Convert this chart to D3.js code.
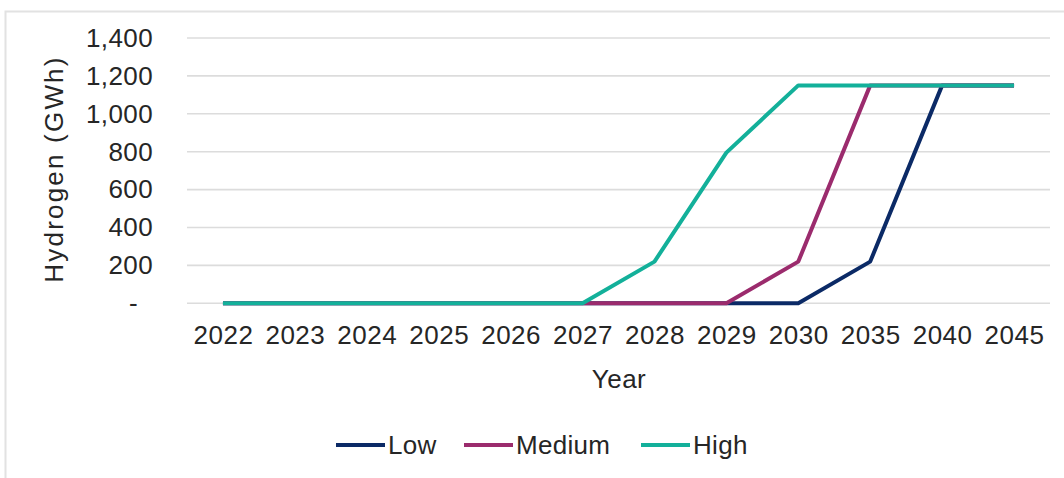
<!DOCTYPE html>
<html>
<head>
<meta charset="utf-8">
<script src="https://cdn.jsdelivr.net/npm/d3@7"></script>
<style>
  html, body { margin: 0; padding: 0; background: #fff; }
  svg { display: block; }
  text { font-family: "Liberation Sans", Arial, sans-serif; fill: #262626; }
</style>
</head>
<body>
<svg id="chart" width="1064" height="478"></svg>
<script>
const years = ["2022","2023","2024","2025","2026","2027","2028","2029","2030","2035","2040","2045"];
const lowValues    = [0,0,0,0,0,0,0,0,0,220,1150,1150];
const mediumValues = [0,0,0,0,0,0,0,0,220,1150,1150,1150];
const highValues   = [0,0,0,0,0,0,220,795,1150,1150,1150,1150];
const seriesNames  = ["Low","Medium","High"];
const seriesColors = ["#0b2a66","#9b2b6d","#13b09a"];
const yTicks = [0,200,400,600,800,1000,1200,1400];

const series = [
  {name: seriesNames[0], values: lowValues, color: seriesColors[0]},
  {name: seriesNames[1], values: mediumValues, color: seriesColors[1]},
  {name: seriesNames[2], values: highValues, color: seriesColors[2]}
];

const svg = d3.select("#chart");
const plotLeft = 187, plotRight = 1050, plotTop = 38, plotBottom = 303.3;
const fs = "26px";

// outer frame (top + left edges)
svg.append("path").attr("d", "M5.5,478 L5.5,11.5 L1064,11.5")
  .attr("fill","none").attr("stroke","#e2e2e2").attr("stroke-width",2);

const x = d3.scalePoint().domain(years).range([plotLeft, plotRight]).padding(0.5);
const y = d3.scaleLinear().domain([0,1400]).range([plotBottom, plotTop]);

// gridlines
svg.append("g").selectAll("line").data(yTicks).join("line")
  .attr("x1", plotLeft).attr("x2", plotRight)
  .attr("y1", d => y(d)).attr("y2", d => y(d))
  .attr("stroke", "#dcdcdc").attr("stroke-width", 1.6);

// y axis labels
const fmt = d3.format(",");
const yAxis = d3.axisLeft(y).tickValues(yTicks).tickSize(0).tickPadding(0)
  .tickFormat(d => d === 0 ? "-" : fmt(d));
const yg = svg.append("g").attr("transform", `translate(153,0)`).call(yAxis);
yg.select(".domain").remove();
yg.selectAll("text").style("font-size",fs).style("fill","#262626")
  .style("letter-spacing","0.4px")
  .attr("font-family","Liberation Sans, Arial, sans-serif")
  .attr("dx", d => d === 0 ? -15 : 0);

// x axis labels
const xAxis = d3.axisBottom(x).tickSize(0).tickPadding(0);
const xg = svg.append("g").attr("transform", `translate(0,319)`).call(xAxis);
xg.select(".domain").remove();
xg.selectAll("text").style("font-size",fs).style("fill","#262626")
  .style("letter-spacing","0.5px")
  .attr("font-family","Liberation Sans, Arial, sans-serif").attr("dy","0.95em");

// lines
const line = d3.line().x((d,i) => x(years[i])).y(d => y(d));
svg.append("g").selectAll("path").data(series).join("path")
  .attr("d", d => line(d.values))
  .attr("fill","none").attr("stroke", d => d.color)
  .attr("stroke-width", 4).attr("stroke-linejoin","round");

// axis titles
svg.append("text").attr("transform","translate(63,169) rotate(-90)")
  .attr("text-anchor","middle").style("font-size",fs).style("letter-spacing","2.2px")
  .text("Hydrogen (GWh)");
svg.append("text").attr("x", 619).attr("y", 388)
  .attr("text-anchor","middle").style("font-size",fs).style("letter-spacing","0.5px").text("Year");

// legend
const legendX = [336, 464, 641];
const lg = svg.append("g").selectAll("g").data(series).join("g")
  .attr("transform", (d,i) => `translate(${legendX[i]},445)`);
lg.append("line").attr("x1",0).attr("x2",49).attr("y1",0).attr("y2",0)
  .attr("stroke", d => d.color).attr("stroke-width",4);
lg.append("text").attr("x",52).attr("y",9).style("font-size",fs).style("letter-spacing","0.3px")
  .text(d => d.name);
</script>
</body>
</html>
